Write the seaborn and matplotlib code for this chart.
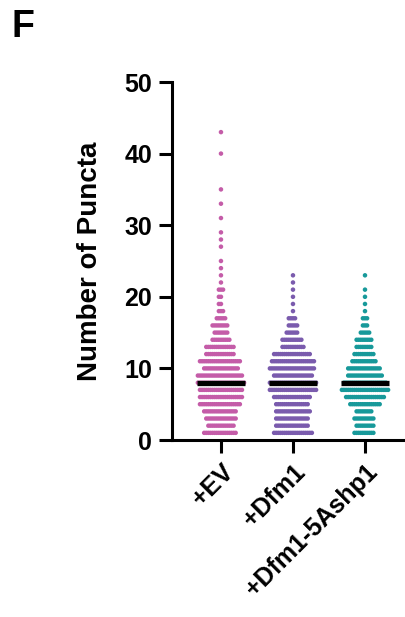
import numpy as np
import pandas as pd
import matplotlib
matplotlib.use("Agg")
import matplotlib.pyplot as plt
import seaborn as sns

# ---- data (value -> number of cells at that value) ----
groups = ["+EV", "+Dfm1", "+Dfm1-5Ashp1"]
colors = ["#C45CA8", "#7A5BAD", "#17999A"]

ev_values = [1, 2, 3, 4, 5, 6, 7, 8, 9, 10, 11, 12, 13, 14, 15, 16, 17, 18, 19, 20, 21,
             22, 23, 24, 25, 27, 28, 29, 31, 33, 35, 40, 43]
ev_counts = [16, 13, 15, 16, 20, 21, 21, 23, 22, 17, 20, 14, 14, 9, 7, 8, 5, 3, 2, 2, 3,
             1, 1, 1, 1, 1, 1, 1, 1, 1, 1, 1, 1]

dfm1_values = [1, 2, 3, 4, 5, 6, 7, 8, 9, 10, 11, 12, 13, 14, 15, 16, 17, 18, 19, 20, 21, 22, 23]
dfm1_counts = [19, 16, 16, 17, 16, 18, 23, 23, 19, 22, 21, 18, 11, 10, 6, 5, 4, 1, 1, 1, 1, 1, 1]

ashp_values = [1, 2, 3, 4, 5, 6, 7, 8, 9, 10, 11, 12, 13, 14, 15, 16, 17, 18, 19, 20, 21, 23]
ashp_counts = [10, 9, 10, 8, 15, 19, 23, 21, 17, 16, 12, 10, 8, 8, 5, 3, 3, 1, 1, 1, 1, 1]

yticks = [0, 10, 20, 30, 40, 50]

frames = []
for g, v, c in zip(groups, [ev_values, dfm1_values, ashp_values],
                   [ev_counts, dfm1_counts, ashp_counts]):
    frames.append(pd.DataFrame({"group": g, "puncta": np.repeat(v, c)}))
df = pd.concat(frames, ignore_index=True)

# ---- figure ----
sns.set_style("ticks")
plt.rcParams["font.family"] = ["Liberation Sans", "DejaVu Sans"]
plt.rcParams["font.weight"] = "bold"
for k in ["text.color", "axes.labelcolor", "xtick.color", "ytick.color", "axes.edgecolor"]:
    plt.rcParams[k] = "black"

DPI = 100
W, H = 406, 617
fig = plt.figure(figsize=(W / DPI, H / DPI), dpi=DPI)
ax = fig.add_axes([172 / W, (H - 440) / H, (W - 172) / W, (440 - 82) / H])

swarm_size = (2.0 * 72 / DPI) ** 2   # spacing of ~2 px used for swarm layout
sns.swarmplot(data=df, x="group", y="puncta", hue="group", palette=colors,
              order=groups, hue_order=groups, size=np.sqrt(swarm_size),
              linewidth=0, legend=False, ax=ax)

ax.set_xlim(-0.68, (W - 221) / 72)
ax.set_ylim(0, 50)
ax.set_yticks(yticks)

# lay out swarm with tight spacing, then enlarge dots so rows look continuous
fig.canvas.draw()
for coll in ax.collections:
    if "draw" in coll.__dict__:
        del coll.draw
    coll.set_sizes([(4.5 * 72 / DPI) ** 2])
    coll.set_clip_on(False)

# median bars
meds = df.groupby("group")["puncta"].median().reindex(groups)
for i, m in enumerate(meds.values):
    ax.hlines(m, i - 0.335, i + 0.335, color="black", lw=3.8, zorder=5)

for s in ["top", "right"]:
    ax.spines[s].set_visible(False)
for s in ["left", "bottom"]:
    ax.spines[s].set_linewidth(2.2)
ax.tick_params(axis="both", width=2.2, length=9.4, labelsize=18, pad=5)
ax.set_xlabel("")
ax.set_ylabel("Number of Puncta", fontsize=20, fontweight="bold")
ax.yaxis.set_label_coords((103 - 172) / (W - 172), 0.5)
ax.set_xticks(range(len(groups)))
ax.set_xticklabels(groups, rotation=45, ha="right", rotation_mode="anchor",
                   fontweight="bold")
for lab in ax.get_yticklabels():
    lab.set_fontweight("bold")

fig.text(11 / W, 1 - 9 / H, "F", fontsize=27, fontweight="bold", va="top", ha="left")

fig.savefig("out.png", dpi=DPI)
